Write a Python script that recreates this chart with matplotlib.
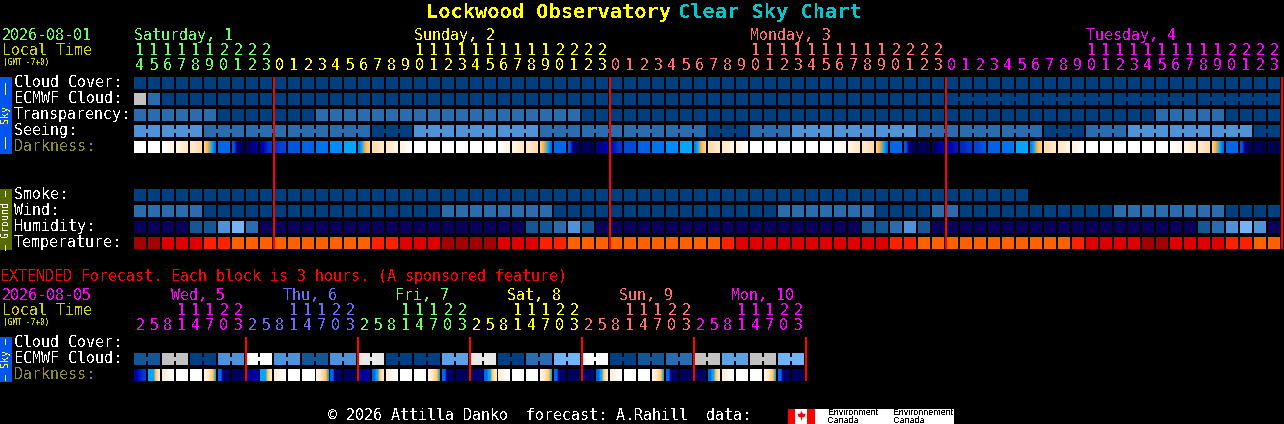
import numpy as np
import matplotlib
matplotlib.use('Agg')
import matplotlib.pyplot as plt
from matplotlib.colors import LinearSegmentedColormap
from matplotlib.patches import Rectangle, Polygon

W, H = 1284, 424
MONO = 'DejaVu Sans Mono'

# colour classes of the blocks
DK, D2, MID, LT, LT2, LT3, GRY, PALE, WHT, NAVY = range(10)
block_colors = ['#003f7f', '#135795', '#2b6cae', '#4f92d8', '#5fa0e2', '#74b4f6',
                '#c2c2c2', '#e8e8e8', '#fbfbfb', '#08005a']
# temperature classes
temp_colors = ['#a30000', '#e00000', '#ff2000', '#ff6000']

# hourly section, 82 columns, first column is 14h
hours = [h % 24 for h in range(14, 96)]
cloud = [DK] * 82
ecmwf = [GRY, MID] + [DK] * 80
transparency = [MID]*6 + [DK]*7 + [MID]*19 + [DK]*41 + [MID]*5 + [DK]*4
seeing = [LT]*5 + [MID]*12 + [DK]*3 + [LT]*9 + [MID]*12 + [DK]*3 + [MID]*3 + [LT]*9 \
    + [MID]*9 + [DK]*3 + [MID]*3 + [LT]*9 + [DK]*2
smoke = [DK] * 64
wind = [MID]*5 + [DK]*17 + [MID]*8 + [DK]*16 + [MID]*7 + [DK]*4 + [MID]*2 + [DK]*11 + [MID]*8 + [DK]*4
humidity = [NAVY]*4 + [D2, D2, LT, LT3, MID] + [NAVY]*19 + [D2, D2, MID, LT, D2] + [NAVY]*19 \
    + [D2, D2, MID, LT, D2] + [NAVY]*19 + [D2, MID, LT, LT3, LT, NAVY]
temperature = [0]*2 + [1]*3 + [2]*2 + [3]*10 + [2]*2 + [1]*3 + [0]*4 + [1]*3 + [2]*2 + [3]*11 \
    + [2] + [1]*11 + [2]*2 + [3]*11 + [2] + [1]*4 + [0]*2 + [1]*4 + [2]*2 + [3]*3

# darkness: level at the stops inside each block (0 white .. 9 almost black)
EVE = (2.4, 2.9, 3.3, 3.7, 4.2, 5)
MORN = (4.6, 4.1, 3.6, 3.1, 2.7, 2.3)
darkness = [
    (0,), (0,), (0, 1), (1, 1.5), (1.5, 2), EVE, (5,), (5.4, 8, 8), (8, 7.2), (7, 6),
    (6, 5.7), (5.4,), (5.1,), (4.8,), (4.4,), (4,), MORN, (2, 1.5), (1.5, 1), (1, 0),
    (0,), (0,), (0,), (0,), (0,), (0,), (0, 1), (1, 1.5), (1.5, 2), EVE,
    (5,), (5.4, 8, 8), (8, 8.5), (7.5, 7), (6.6, 6), (5.6,), (5.1,), (4.8,), (4.4,), (4,),
    MORN, (2, 1.5), (1.5, 1), (1, 0), (0,), (0,), (0,), (0,), (0,), (0,),
    (0, 0.6), (1, 1.5), (1.5, 2), EVE, (5,), (5.4, 8, 8), (8, 8.5), (8, 7),
    (7, 6.6), (6.3, 6), (5.8, 5.4), (5.1,), (4.8,), (4,), MORN, (2, 1.5), (1.5, 1), (1, 0),
    (0,), (0,), (0,), (0,), (0,), (0,), (0, 0.6), (1, 1.5), (1.5, 2), EVE,
    (5,), (5.4, 8, 8), (8, 8.5), (8.5,),
]

# extended section, 48 columns of 3 hours
ext_hours = [2, 5, 8, 11, 14, 17, 20, 23] * 6
ext_ecmwf = [D2, D2, GRY, GRY, DK, DK, LT, LT, WHT, WHT, LT, LT, D2, D2, LT, LT, PALE, PALE,
             DK, DK, DK, DK, LT2, LT2, PALE, PALE, DK, DK, MID, MID, LT3, LT3, WHT, WHT, DK, DK,
             D2, D2, MID, MID, GRY, GRY, LT2, LT2, GRY, GRY, LT3, LT3]
XDAWN = (4, 4, 4, 3.9, 2.6, 2, 1.4)
XDAWN2 = (5, 5, 4, 3.9, 2.6, 2, 1.4)
XEVE = (0.8, 1.2, 1.7, 2.2, 2.6, 3.9)
XNITE = (5, 5, 8, 8, 8, 8)
ext_darkness = [
    (7, 6), XDAWN, (1.2, 0), (0,), (0,), XEVE, XNITE, (8.2, 8.2),
    (7.5, 7), XDAWN, (1.2, 0), (0,), (0,), XEVE, XNITE, (8.2, 8.2),
    (7.4, 7), XDAWN2, (1.2, 0), (0,), (0,), XEVE, XNITE, (8.2, 8.2),
    (8, 7.5), XDAWN2, (1.2, 0), (0,), (0,), XEVE, XNITE, (8.2, 8.2),
    (8, 7.8), XDAWN2, (1.2, 0), (0,), (0,), XEVE, XNITE, (8.2, 8.2),
    (8.2, 8), XDAWN2, (1.2, 0), (0,), (0,), XEVE, XNITE, (8.2, 8.2),
]

# day headers
day_names = ['Saturday, 1', 'Sunday, 2', 'Monday, 3', 'Tuesday, 4']
day_label_col = [0, 20, 44, 68]
day_first_col = [0, 10, 34, 58]
day_colors = ['#66ff66', '#ffff00', '#ff7070', '#ff00ff']
ext_day_names = ['Wed, 5', 'Thu, 6', 'Fri, 7', 'Sat, 8', 'Sun, 9', 'Mon, 10']
ext_day_colors = ['#ff00ff', '#6a6aff', '#66ff66', '#ffff00', '#ff7070', '#ff00ff']

row_labels = ['Cloud Cover:', 'ECMWF Cloud:', 'Transparency:', 'Seeing:', 'Darkness:']
ground_labels = ['Smoke:', 'Wind:', 'Humidity:', 'Temperature:']
ext_labels = ['Cloud Cover:', 'ECMWF Cloud:', 'Darkness:']

dark_cmap = LinearSegmentedColormap.from_list('dark', [
    (0.0, '#ffffff'), (1/9, '#fff3e2'), (2/9, '#ffdcae'), (3/9, '#ffb040'),
    (4/9, '#00a5ff'), (5/9, '#0068e8'), (6/9, '#0038d0'), (7/9, '#0000a8'),
    (8/9, '#000060'), (1.0, '#000040')])

plt.rcParams['font.family'] = MONO
plt.rcParams['text.antialiased'] = False
fig = plt.figure(figsize=(W/100, H/100), dpi=100, facecolor='black')


def px_axes(x0, y0, w, h):
    ax = fig.add_axes([x0/W, 1 - (y0 + h)/H, w/W, h/H])
    ax.axis('off')
    return ax


# whole-figure axes in pixels, used for the text
bg = px_axes(0, 0, W, H)
bg.set_xlim(0, W)
bg.set_ylim(H, 0)


def label(x, y, s, color='white', size=10.8, **kw):
    # y is the baseline of the text
    kw.setdefault('va', 'baseline')
    return bg.text(x, y, s, color=color, fontsize=size, **kw)


def block_row(ax, row, values, colors, step=None):
    # 12 px blocks on a 14 px pitch
    c = [colors[v] for v in values]
    ax.bar(np.arange(len(values)), 0.75, width=12/14, bottom=row, color=c, align='edge',
           linewidth=0)
    # blocks of one forecast step are joined by a short bridge
    if step is not None:
        for i in range(len(values) - 1):
            if step[i] == step[i + 1]:
                ax.bar(i + 12/14, 0.25, width=2/14, bottom=row + 0.25, color=c[i],
                       align='edge', linewidth=0)


def dark_row(ax, row, values):
    for i, v in enumerate(values):
        ax.imshow(np.array([v], dtype=float), cmap=dark_cmap, vmin=0, vmax=9, aspect='auto',
                  extent=(i, i + 12/14, row + 0.75, row), interpolation='bilinear',
                  interpolation_stage='data')


def day_lines(ax, cols, top):
    ax.bar(cols, top, width=2/14, bottom=0, color='#ff0000', linewidth=0, clip_on=False, zorder=5)


# ---- hourly grid
main = px_axes(134, 77, 1148, 172)
seeing_step = [(i + 1) // 3 for i in range(82)]
ecmwf_step = [i if i < 58 else 100 + (i - 58) // 6 for i in range(82)]
block_row(main, 0, cloud, block_colors)
block_row(main, 1, ecmwf, block_colors, ecmwf_step)
block_row(main, 2, transparency, block_colors)
block_row(main, 3, seeing, block_colors, seeing_step)
dark_row(main, 4, darkness)
block_row(main, 7, smoke, block_colors)
block_row(main, 8, wind, block_colors)
block_row(main, 9, humidity, block_colors)
block_row(main, 10, temperature, temp_colors)
day_lines(main, [10, 34, 58, 82], 10.75)
main.set_xlim(0, 82)
main.set_ylim(10.75, 0)

# ---- extended grid
ext = px_axes(134, 337, 672, 44)
block_row(ext, 1, ext_ecmwf, block_colors, [i // 2 for i in range(48)])
dark_row(ext, 2, ext_darkness)
day_lines(ext, list(range(8, 56, 8)), 2.75)
ext.set_xlim(0, 48)
ext.set_ylim(2.75, 0)

# ---- title
label(426, 18, 'Lockwood Observatory', '#ffff00', 14.7, weight='bold')
label(678, 18, 'Clear Sky Chart', '#00c8c8', 14.7, weight='bold')

# ---- header rows of hourly part
label(2, 40, '2026-08-01', '#66ff66')
label(2, 55, 'Local Time', '#d0d000')
label(3, 65, '(GMT -7+0)', '#d0d000', 5.6)
for name, col, color in zip(day_names, day_label_col, day_colors):
    label(134.5 + 14*col, 40, name, color)
for i, h in enumerate(hours):
    color = day_colors[np.searchsorted(day_first_col, i, side='right') - 1]
    if h >= 10:
        label(140 + 14*i, 55, str(h // 10), color, ha='center')
    label(140 + 14*i, 70, str(h % 10), color, ha='center')

for r, s in enumerate(row_labels):
    label(14, 87 + 16*r, s, '#8c8c30' if s == 'Darkness:' else 'white')
for r, s in enumerate(ground_labels):
    label(14, 199 + 16*r, s)

# ---- side bars
bg.add_patch(Rectangle((0, 77), 12, 77, color='#0055ee', lw=0))
label(6, 115.5, '\u2013\u2013  Sky  \u2013\u2013', '#ffff00', 7.2, rotation=90, ha='center', va='center')
bg.add_patch(Rectangle((0, 189), 12, 61, color='#556b00', lw=0))
label(6, 219.5, '\u2013 Ground \u2013', 'white', 7.2, rotation=90, ha='center', va='center')
bg.add_patch(Rectangle((0, 337), 12, 45, color='#0055ee', lw=0))
label(6, 359.5, '\u2013 Sky \u2013', '#ffff00', 7.2, rotation=90, ha='center', va='center')

# ---- extended header
label(0, 281, 'EXTENDED Forecast. Each block is 3 hours. (A sponsored feature)', '#ff0000')
label(2, 300, '2026-08-05', '#ff00ff')
label(2, 315, 'Local Time', '#d0d000')
label(3, 325, '(GMT -7+0)', '#d0d000', 5.6)
for d, (name, color) in enumerate(zip(ext_day_names, ext_day_colors)):
    label(171 + 112*d, 300, name, color)
for i, h in enumerate(ext_hours):
    color = ext_day_colors[i // 8]
    if h >= 10:
        label(140 + 14*i, 315, str(h // 10), color, ha='center')
    label(140 + 14*i, 330, str(h % 10), color, ha='center')
for r, s in enumerate(ext_labels):
    label(14, 347 + 16*r, s, '#8c8c30' if s == 'Darkness:' else 'white')

# ---- footer
label(328, 420, '\u00a9 2026 Attilla Danko  forecast: A.Rahill  data:')
bg.add_patch(Rectangle((788, 409), 166, 15, color='white', lw=0))
bg.add_patch(Rectangle((788, 409), 7, 15, color='#ff0000', lw=0))
bg.add_patch(Rectangle((807, 409), 8, 15, color='#ff0000', lw=0))
bg.add_patch(Polygon([(801.5, 411), (803, 414), (805.5, 413.5), (804.5, 417), (802, 417.5),
                      (802, 420), (801, 420), (801, 417.5), (798.5, 417), (797.5, 413.5),
                      (800, 414)], color='#ff0000', lw=0))
for x, a in [(828, 'Environment'), (893, 'Environnement')]:
    label(x, 415, a, 'black', 6.4, family='Liberation Sans')
    label(x, 423, 'Canada', 'black', 6.4, family='Liberation Sans')

fig.savefig('out.png', dpi=100, facecolor='black')
